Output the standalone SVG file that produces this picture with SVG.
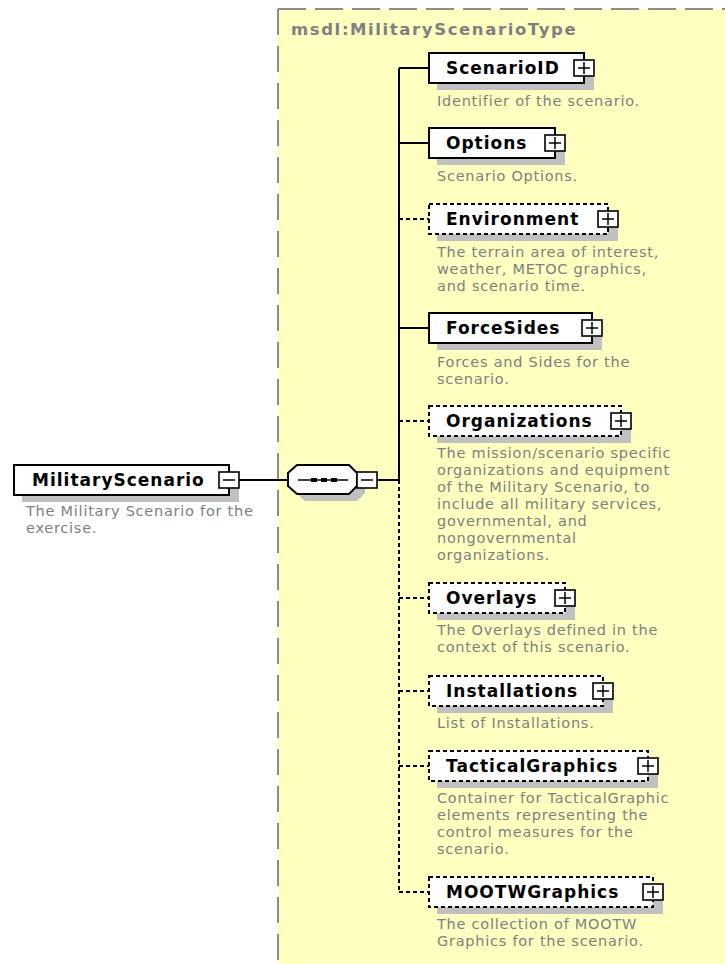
<svg xmlns="http://www.w3.org/2000/svg" width="725" height="964" viewBox="0 0 725 964">
<defs>
<style>
.bg{fill:#fff}
.panel{fill:#FFFFC0}
.pborder{fill:none;stroke:#8c8c8c;stroke-width:2}
.box{fill:#fff;stroke:#000;stroke-width:2}
.opt{stroke-dasharray:4 3}
.shadow{fill:#c0c0c0}
.xbox{fill:#fff;stroke:#000;stroke-width:1.6}
.sign{stroke:#000;stroke-width:1.5;fill:none}
.lbl{font-family:"DejaVu Sans",Verdana,sans-serif;font-weight:bold;font-size:17px;letter-spacing:1px;fill:#000}
.desc{font-family:"DejaVu Sans",Verdana,sans-serif;font-size:14.5px;letter-spacing:0.75px;fill:#808080}
.hdr{font-family:"DejaVu Sans",Verdana,sans-serif;font-weight:bold;font-size:16.5px;letter-spacing:1.6px;fill:#808080}
.ln{stroke:#000;stroke-width:2;fill:none}
.dl{stroke:#000;stroke-width:2;fill:none;stroke-dasharray:4 3}
</style>
</defs>
<rect class="bg" x="0" y="0" width="725" height="964"/>
<g id="panel">
<rect class="panel" x="278" y="9" width="447" height="955"/>
<path class="pborder" d="M278,9 H725" stroke-dasharray="28 9"/>
<path class="pborder" d="M278,9 V964" stroke-dasharray="26 11"/>
<text class="hdr" x="291" y="35">msdl:MilitaryScenarioType</text>
</g>
<g id="connectors">
<path class="ln" d="M239,480 H288"/>
<path class="ln" d="M377,480 H399"/>
<path class="ln" d="M399,68 V480"/>
<path class="dl" d="M399,480 V892"/>
<path class="ln" d="M399,68 H429 M399,143 H429 M399,328 H429"/>
<path class="dl" d="M399,219 H429 M399,421 H429 M399,598 H429 M399,691 H429 M399,766 H429 M399,892 H429"/>
</g>
<g id="MilitaryScenario">
<rect class="shadow" x="22" y="472" width="217" height="30"/>
<rect class="box" x="14" y="465" width="215" height="30"/>
<text class="lbl" x="32" y="486">MilitaryScenario</text>
<rect class="xbox" x="219" y="472" width="20" height="16"/>
<path class="sign" d="M223,480 H235"/>
<text class="desc" x="26" y="516">The Military Scenario for the</text>
<text class="desc" x="26" y="533">exercise.</text>
</g>
<g id="sequence">
<polygon class="shadow" points="305,472 357,472 365,480 365,493 357,501 305,501 296,493 296,480"/>
<polygon class="box" points="297,465 349,465 357,473 357,486 349,494 297,494 288,486 288,473"/>
<path class="sign" d="M298,480 H348"/>
<rect x="311" y="478" width="6" height="4" fill="#000"/>
<rect x="321" y="478" width="6" height="4" fill="#000"/>
<rect x="331" y="478" width="6" height="4" fill="#000"/>
<rect class="xbox" x="357" y="472" width="20" height="16"/>
<path class="sign" d="M361,480 H373"/>
</g>
<g id="ScenarioID">
<rect class="shadow" x="437" y="60" width="157" height="30"/>
<rect class="box" x="429" y="53" width="155" height="30"/>
<text class="lbl" x="446" y="74">ScenarioID</text>
<rect class="xbox" x="574" y="60" width="20" height="16"/>
<path class="sign" d="M578,68 H590 M584,62 V74"/>
<text class="desc" x="437" y="106">Identifier of the scenario.</text>
</g>
<g id="Options">
<rect class="shadow" x="437" y="135" width="128" height="30"/>
<rect class="box" x="429" y="128" width="126" height="30"/>
<text class="lbl" x="446" y="149">Options</text>
<rect class="xbox" x="545" y="135" width="20" height="16"/>
<path class="sign" d="M549,143 H561 M555,137 V149"/>
<text class="desc" x="437" y="181">Scenario Options.</text>
</g>
<g id="Environment">
<rect class="shadow" x="437" y="211" width="181" height="30"/>
<rect class="box opt" x="429" y="204" width="179" height="30"/>
<text class="lbl" x="446" y="225">Environment</text>
<rect class="xbox" x="598" y="211" width="20" height="16"/>
<path class="sign" d="M602,219 H614 M608,213 V225"/>
<text class="desc" x="437" y="257">The terrain area of interest,</text>
<text class="desc" x="437" y="274">weather, METOC graphics,</text>
<text class="desc" x="437" y="291">and scenario time.</text>
</g>
<g id="ForceSides">
<rect class="shadow" x="437" y="320" width="165" height="30"/>
<rect class="box" x="429" y="313" width="163" height="30"/>
<text class="lbl" x="446" y="334">ForceSides</text>
<rect class="xbox" x="582" y="320" width="20" height="16"/>
<path class="sign" d="M586,328 H598 M592,322 V334"/>
<text class="desc" x="437" y="367">Forces and Sides for the</text>
<text class="desc" x="437" y="384">scenario.</text>
</g>
<g id="Organizations">
<rect class="shadow" x="437" y="413" width="194" height="30"/>
<rect class="box opt" x="429" y="406" width="192" height="30"/>
<text class="lbl" x="446" y="427">Organizations</text>
<rect class="xbox" x="611" y="413" width="20" height="16"/>
<path class="sign" d="M615,421 H627 M621,415 V427"/>
<text class="desc" x="437" y="458">The mission/scenario specific</text>
<text class="desc" x="437" y="475">organizations and equipment</text>
<text class="desc" x="437" y="492">of the Military Scenario, to</text>
<text class="desc" x="437" y="509">include all military services,</text>
<text class="desc" x="437" y="526">governmental, and</text>
<text class="desc" x="437" y="543">nongovernmental</text>
<text class="desc" x="437" y="560">organizations.</text>
</g>
<g id="Overlays">
<rect class="shadow" x="437" y="590" width="138" height="30"/>
<rect class="box opt" x="429" y="583" width="136" height="30"/>
<text class="lbl" x="446" y="604">Overlays</text>
<rect class="xbox" x="555" y="590" width="20" height="16"/>
<path class="sign" d="M559,598 H571 M565,592 V604"/>
<text class="desc" x="437" y="635">The Overlays defined in the</text>
<text class="desc" x="437" y="652">context of this scenario.</text>
</g>
<g id="Installations">
<rect class="shadow" x="437" y="683" width="176" height="30"/>
<rect class="box opt" x="429" y="676" width="174" height="30"/>
<text class="lbl" x="446" y="697">Installations</text>
<rect class="xbox" x="593" y="683" width="20" height="16"/>
<path class="sign" d="M597,691 H609 M603,685 V697"/>
<text class="desc" x="437" y="728">List of Installations.</text>
</g>
<g id="TacticalGraphics">
<rect class="shadow" x="437" y="758" width="221" height="30"/>
<rect class="box opt" x="429" y="751" width="219" height="30"/>
<text class="lbl" x="446" y="772">TacticalGraphics</text>
<rect class="xbox" x="638" y="758" width="20" height="16"/>
<path class="sign" d="M642,766 H654 M648,760 V772"/>
<text class="desc" x="437" y="803">Container for TacticalGraphic</text>
<text class="desc" x="437" y="820">elements representing the</text>
<text class="desc" x="437" y="837">control measures for the</text>
<text class="desc" x="437" y="854">scenario.</text>
</g>
<g id="MOOTWGraphics">
<rect class="shadow" x="437" y="884" width="226" height="30"/>
<rect class="box opt" x="429" y="877" width="224" height="30"/>
<text class="lbl" x="446" y="898">MOOTWGraphics</text>
<rect class="xbox" x="643" y="884" width="20" height="16"/>
<path class="sign" d="M647,892 H659 M653,886 V898"/>
<text class="desc" x="437" y="929">The collection of MOOTW</text>
<text class="desc" x="437" y="946">Graphics for the scenario.</text>
</g>
</svg>
